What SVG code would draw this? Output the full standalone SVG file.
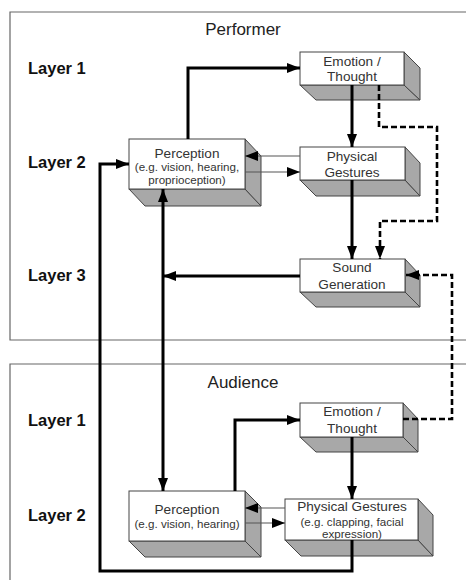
<svg xmlns="http://www.w3.org/2000/svg" width="466" height="580" viewBox="0 0 466 580">
<defs>
<style>
.frame{fill:none;stroke:#666;stroke-width:1.2}
.title{font-family:"Liberation Sans",Arial,sans-serif;font-size:17px;fill:#222;text-anchor:middle}
.layer{font-family:"Liberation Sans",Arial,sans-serif;font-size:16.5px;font-weight:bold;fill:#111}
.front{fill:#fff;stroke:#444;stroke-width:1}
.side{fill:#a8a8a8;stroke:#444;stroke-width:1}
.lbl{font-family:"Liberation Sans",Arial,sans-serif;font-size:13.6px;fill:#333;text-anchor:middle}
.sub{font-family:"Liberation Sans",Arial,sans-serif;font-size:11.6px;fill:#333;text-anchor:middle}
.thick{fill:none;stroke:#000;stroke-width:3}
.thin{fill:none;stroke:#555;stroke-width:1.2}
.dash{fill:none;stroke:#000;stroke-width:2.6;stroke-dasharray:6,3}
</style>
<marker id="ah" markerUnits="userSpaceOnUse" viewBox="0 0 13 10" refX="13" refY="5" markerWidth="13" markerHeight="10" orient="auto-start-reverse">
<path d="M0,0 L13,5 L0,10 z" fill="#000"/>
</marker>
<marker id="ahs" markerUnits="userSpaceOnUse" viewBox="0 0 13 10" refX="13" refY="5" markerWidth="13" markerHeight="10" orient="auto">
<path d="M0,0 L13,5 L0,10 z" fill="#000"/>
</marker>
</defs>
<rect width="466" height="580" fill="#fff"/>

<g id="performer-frame">
<path class="frame" d="M470,12 H10 V340 H470"/>
<text class="title" x="243" y="35">Performer</text>
<text class="layer" x="28" y="74">Layer 1</text>
<text class="layer" x="28" y="168">Layer 2</text>
<text class="layer" x="28" y="281">Layer 3</text>
</g>
<g id="audience-frame">
<path class="frame" d="M470,364 H10 V585"/>
<text class="title" x="243" y="388">Audience</text>
<text class="layer" x="28" y="426">Layer 1</text>
<text class="layer" x="28" y="521">Layer 2</text>
</g>

<g id="p-emotion">
<polygon class="side" points="300,85 404,85 420,100 316,100"/>
<polygon class="side" points="404,52 420,68 420,100 404,85"/>
<rect class="front" x="300" y="52" width="104" height="33"/>
<text class="lbl" x="352" y="66">Emotion /</text>
<text class="lbl" x="352" y="81">Thought</text>
</g>
<g id="p-perception">
<polygon class="side" points="129,189 245,189 261,206 145,206"/>
<polygon class="side" points="245,139 261,156 261,206 245,189"/>
<rect class="front" x="129" y="139" width="116" height="50"/>
<text class="lbl" x="187" y="158">Perception</text>
<text class="sub" x="187" y="171">(e.g. vision, hearing,</text>
<text class="sub" x="187" y="184">proprioception)</text>
</g>
<g id="p-gestures">
<polygon class="side" points="300,180 405,180 420,196 316,196"/>
<polygon class="side" points="405,147 420,163 420,196 405,180"/>
<rect class="front" x="300" y="147" width="105" height="33"/>
<text class="lbl" x="352" y="161">Physical</text>
<text class="lbl" x="352" y="177">Gestures</text>
</g>
<g id="p-sound">
<polygon class="side" points="300,292 405,292 420,307 316,307"/>
<polygon class="side" points="405,259 420,275 420,307 405,292"/>
<rect class="front" x="300" y="259" width="105" height="33"/>
<text class="lbl" x="352" y="272">Sound</text>
<text class="lbl" x="352" y="289">Generation</text>
</g>

<g id="a-emotion">
<polygon class="side" points="300,437 403,437 418,452 316,452"/>
<polygon class="side" points="403,403 418,419 418,452 403,437"/>
<rect class="front" x="300" y="403" width="103" height="34"/>
<text class="lbl" x="352" y="416">Emotion /</text>
<text class="lbl" x="352" y="433">Thought</text>
</g>
<g id="a-perception">
<polygon class="side" points="129,541 245,541 261,557 145,557"/>
<polygon class="side" points="245,491 261,507 261,557 245,541"/>
<rect class="front" x="129" y="491" width="116" height="50"/>
<text class="lbl" x="187" y="514">Perception</text>
<text class="sub" x="187" y="528">(e.g. vision, hearing)</text>
</g>
<g id="a-gestures">
<polygon class="side" points="285,540 418,540 433,556 301,556"/>
<polygon class="side" points="418,499 433,515 433,556 418,540"/>
<rect class="front" x="285" y="499" width="133" height="41"/>
<text class="lbl" x="352" y="511">Physical Gestures</text>
<text class="sub" x="352" y="526">(e.g. clapping, facial</text>
<text class="sub" x="352" y="538">expression)</text>
</g>

<g id="connectors">
<path class="thick" marker-end="url(#ahs)" d="M188,139 V68 H300"/>
<path class="thick" marker-end="url(#ahs)" d="M352,85 V147"/>
<path class="thin" marker-end="url(#ahs)" d="M300,156 H245"/>
<path class="thin" marker-end="url(#ahs)" d="M245,172 H300"/>
<path class="thick" marker-end="url(#ahs)" d="M352,180 V259"/>
<path class="dash" marker-end="url(#ahs)" d="M379,85 V127 H437 V221 H380 V259"/>
<path class="thick" marker-end="url(#ahs)" d="M300,276 H163"/>
<path class="thick" marker-start="url(#ah)" marker-end="url(#ah)" d="M163,189 V491"/>
<path class="thick" marker-end="url(#ahs)" d="M352,540 V571 H100 V164 H129"/>
<path class="dash" marker-end="url(#ahs)" d="M403,419 H452 V275 H406"/>
<path class="thick" marker-end="url(#ahs)" d="M235,491 V420 H300"/>
<path class="thick" marker-end="url(#ahs)" d="M352,437 V499"/>
<path class="thin" marker-end="url(#ahs)" d="M285,508 H245"/>
<path class="thin" marker-end="url(#ahs)" d="M245,523 H285"/>
</g>
</svg>
